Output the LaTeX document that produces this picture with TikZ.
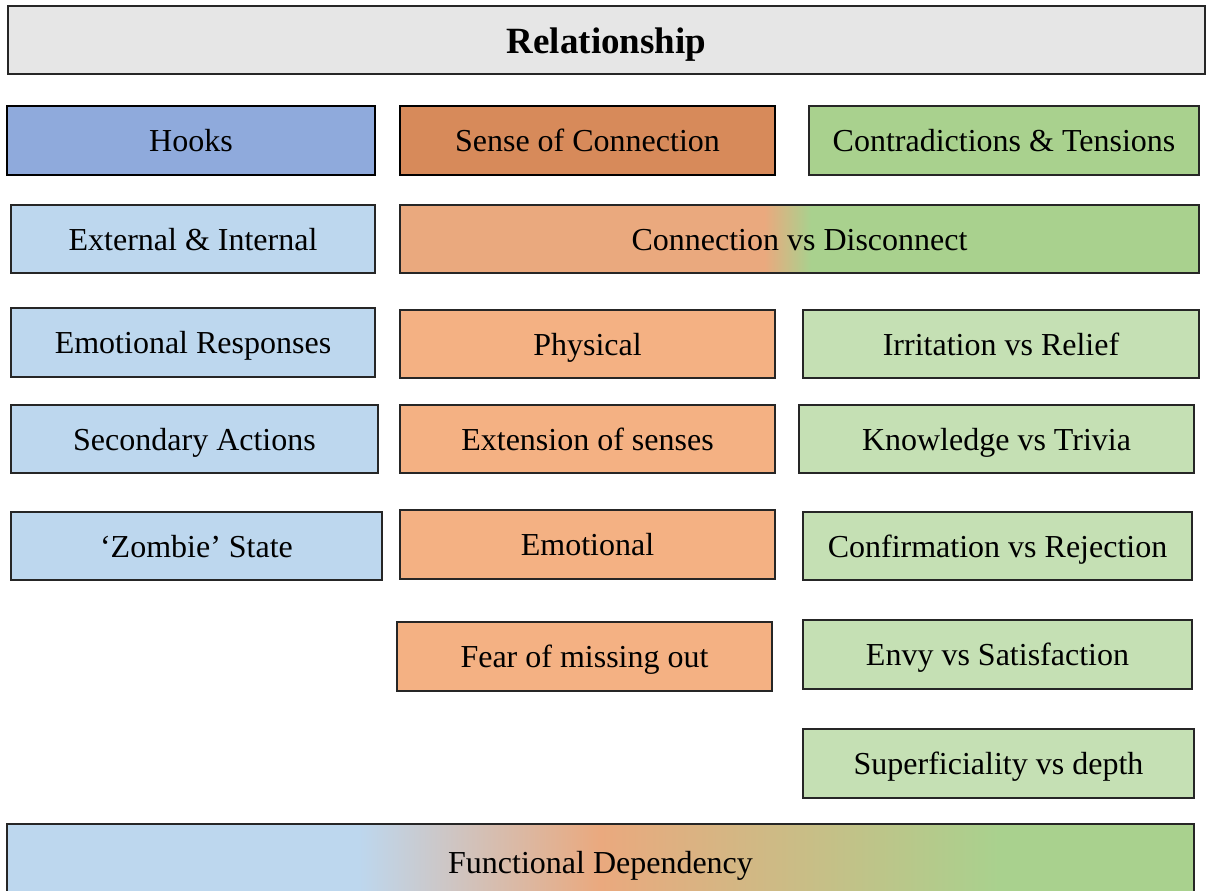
\documentclass[tikz,border=0pt]{standalone}
\usepackage{fontspec}
\setmainfont{Liberation Serif}
\usepackage{tikz}
\definecolor{titlegray}{HTML}{E6E6E6}
\definecolor{hookblue}{HTML}{8FAADC}
\definecolor{lblue}{HTML}{BDD7EE}
\definecolor{senseorange}{HTML}{D78A5A}
\definecolor{lorange}{HTML}{F4B183}
\definecolor{morange}{HTML}{EAA97E}
\definecolor{mgreen}{HTML}{A9D18E}
\definecolor{lgreen}{HTML}{C5E0B4}
\pgfdeclarehorizontalshading{convdis}{100bp}{color(0bp)=(morange); color(47.8bp)=(morange);
color(50.7bp)=(mgreen); color(100bp)=(mgreen)}
\pgfdeclarehorizontalshading{funcdep}{100bp}{color(0bp)=(lblue); color(39.8bp)=(lblue);
color(50bp)=(morange); color(66.8bp)=(mgreen); color(100bp)=(mgreen)}

\begin{document}
\begin{tikzpicture}[x=0.5pt,y=-0.5pt,
box/.style={draw=black!85,line width=0.6pt,inner sep=0pt,outer sep=0pt,
minimum height=34pt,text height=11pt,text depth=0pt,font=\fontsize{16}{19}\selectfont},
head/.style={box,draw=black,line width=1.3pt}]
\useasboundingbox (0,0) rectangle (1208,890);
\clip (0,0) rectangle (1208,890);
\node[box,fill=titlegray,minimum width=598.5pt,text height=13.3pt,
font=\fontsize{18.5}{22}\selectfont\bfseries] (rel) at (606.5,40) {Relationship};
% column heads
\node[head,fill=hookblue,minimum width=184pt,minimum height=34.5pt] (hooks) at (191,140.5) {Hooks};
\node[head,fill=senseorange,minimum width=187.5pt,minimum height=34.5pt] (sense) at (587.5,140.5) {Sense of Connection};
\node[box,fill=mgreen,minimum width=195pt,minimum height=34.5pt] (contra) at (1004,140.5) {Contradictions \& Tensions};
% hooks
\node[box,fill=lblue,minimum width=182pt] (extint) at (193,239) {External \& Internal};
\node[box,fill=lblue,minimum width=182pt,minimum height=34.5pt] (emoresp) at (193,342.5) {Emotional Responses};
\node[box,fill=lblue,minimum width=183.5pt] (second) at (194.5,439) {Secondary Actions};
\node[box,fill=lblue,minimum width=185.5pt] (zombie) at (196.5,546) {‘Zombie’ State};
% sense of connection
\node[box,shade,shading=convdis,minimum width=399.5pt] (convd) at (799.5,239) {Connection vs Disconnect};
\node[box,fill=lorange,minimum width=187.5pt] (phys) at (587.5,344) {Physical};
\node[box,fill=lorange,minimum width=187.5pt] (extsense) at (587.5,439) {Extension of senses};
\node[box,fill=lorange,minimum width=187.5pt,minimum height=34.5pt] (emo) at (587.5,544.5) {Emotional};
\node[box,fill=lorange,minimum width=187.5pt,minimum height=34.5pt] (fomo) at (584.5,656.5) {Fear of missing out};
% contradictions
\node[box,fill=lgreen,minimum width=198pt] (irrit) at (1001,344) {Irritation vs Relief};
\node[box,fill=lgreen,minimum width=197.5pt] (know) at (996.5,439) {Knowledge vs Trivia};
\node[box,fill=lgreen,minimum width=194.5pt] (confirm) at (997.5,546) {Confirmation vs Rejection};
\node[box,fill=lgreen,minimum width=194.5pt,minimum height=34.5pt] (envy) at (997.5,654.5) {Envy vs Satisfaction};
\node[box,fill=lgreen,minimum width=195.5pt,minimum height=34.5pt] (superf) at (998.5,763.5) {Superficiality vs depth};
\node[box,shade,shading=funcdep,minimum width=593.5pt,minimum height=38pt] (fdep) at (600.5,862) {Functional Dependency};
\end{tikzpicture}
\end{document}
